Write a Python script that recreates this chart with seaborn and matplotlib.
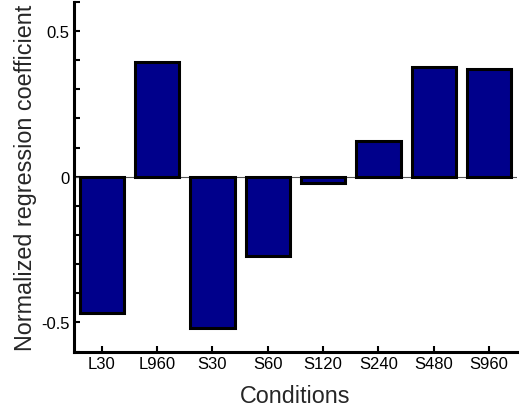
import pandas as pd
import seaborn as sns
import matplotlib.pyplot as plt
from matplotlib.ticker import MultipleLocator

# Datos
condiciones = ["L30", "L960", "S30", "S60", "S120", "S240", "S480", "S960"]
coeficientes = [-0.467, 0.395, -0.520, -0.272, -0.020, 0.122, 0.378, 0.369]

df = pd.DataFrame({"Conditions": condiciones, "coef": coeficientes})

sns.set_style("ticks")
plt.rcParams["font.family"] = ["Liberation Sans", "DejaVu Sans"]

fig = plt.figure(figsize=(5.22, 4.10), dpi=100)
ax = fig.add_axes([0.142, 0.140, 0.848, 0.853])

sns.barplot(data=df, x="Conditions", y="coef", color="#00008B", saturation=1,
            width=0.8, edgecolor="black", linewidth=2.2, ax=ax, zorder=3)

# linea del cero
ax.axhline(0, color="#555555", linewidth=0.8, zorder=1)

ax.set_xlim(-0.5, 7.5)
ax.set_ylim(-0.6, 0.6)
ax.set_yticks([-0.5, 0, 0.5])
ax.set_yticklabels(["-0.5", "0", "0.5"])
ax.yaxis.set_minor_locator(MultipleLocator(0.1))

ax.tick_params(axis="both", which="both", direction="in", width=1.5, labelsize=12,
               color="black", labelcolor="black")
ax.tick_params(axis="both", which="major", length=4.5)
ax.tick_params(axis="y", which="minor", length=4.5)

for lado in ["top", "right"]:
    ax.spines[lado].set_visible(False)
for lado in ["left", "bottom"]:
    ax.spines[lado].set_linewidth(2.2)
    ax.spines[lado].set_color("black")

ax.set_xlabel("Conditions", fontsize=16.8, labelpad=9)
ax.set_ylabel("Normalized regression coefficient", fontsize=16.8, labelpad=3)

fig.savefig("out.png", dpi=100)
